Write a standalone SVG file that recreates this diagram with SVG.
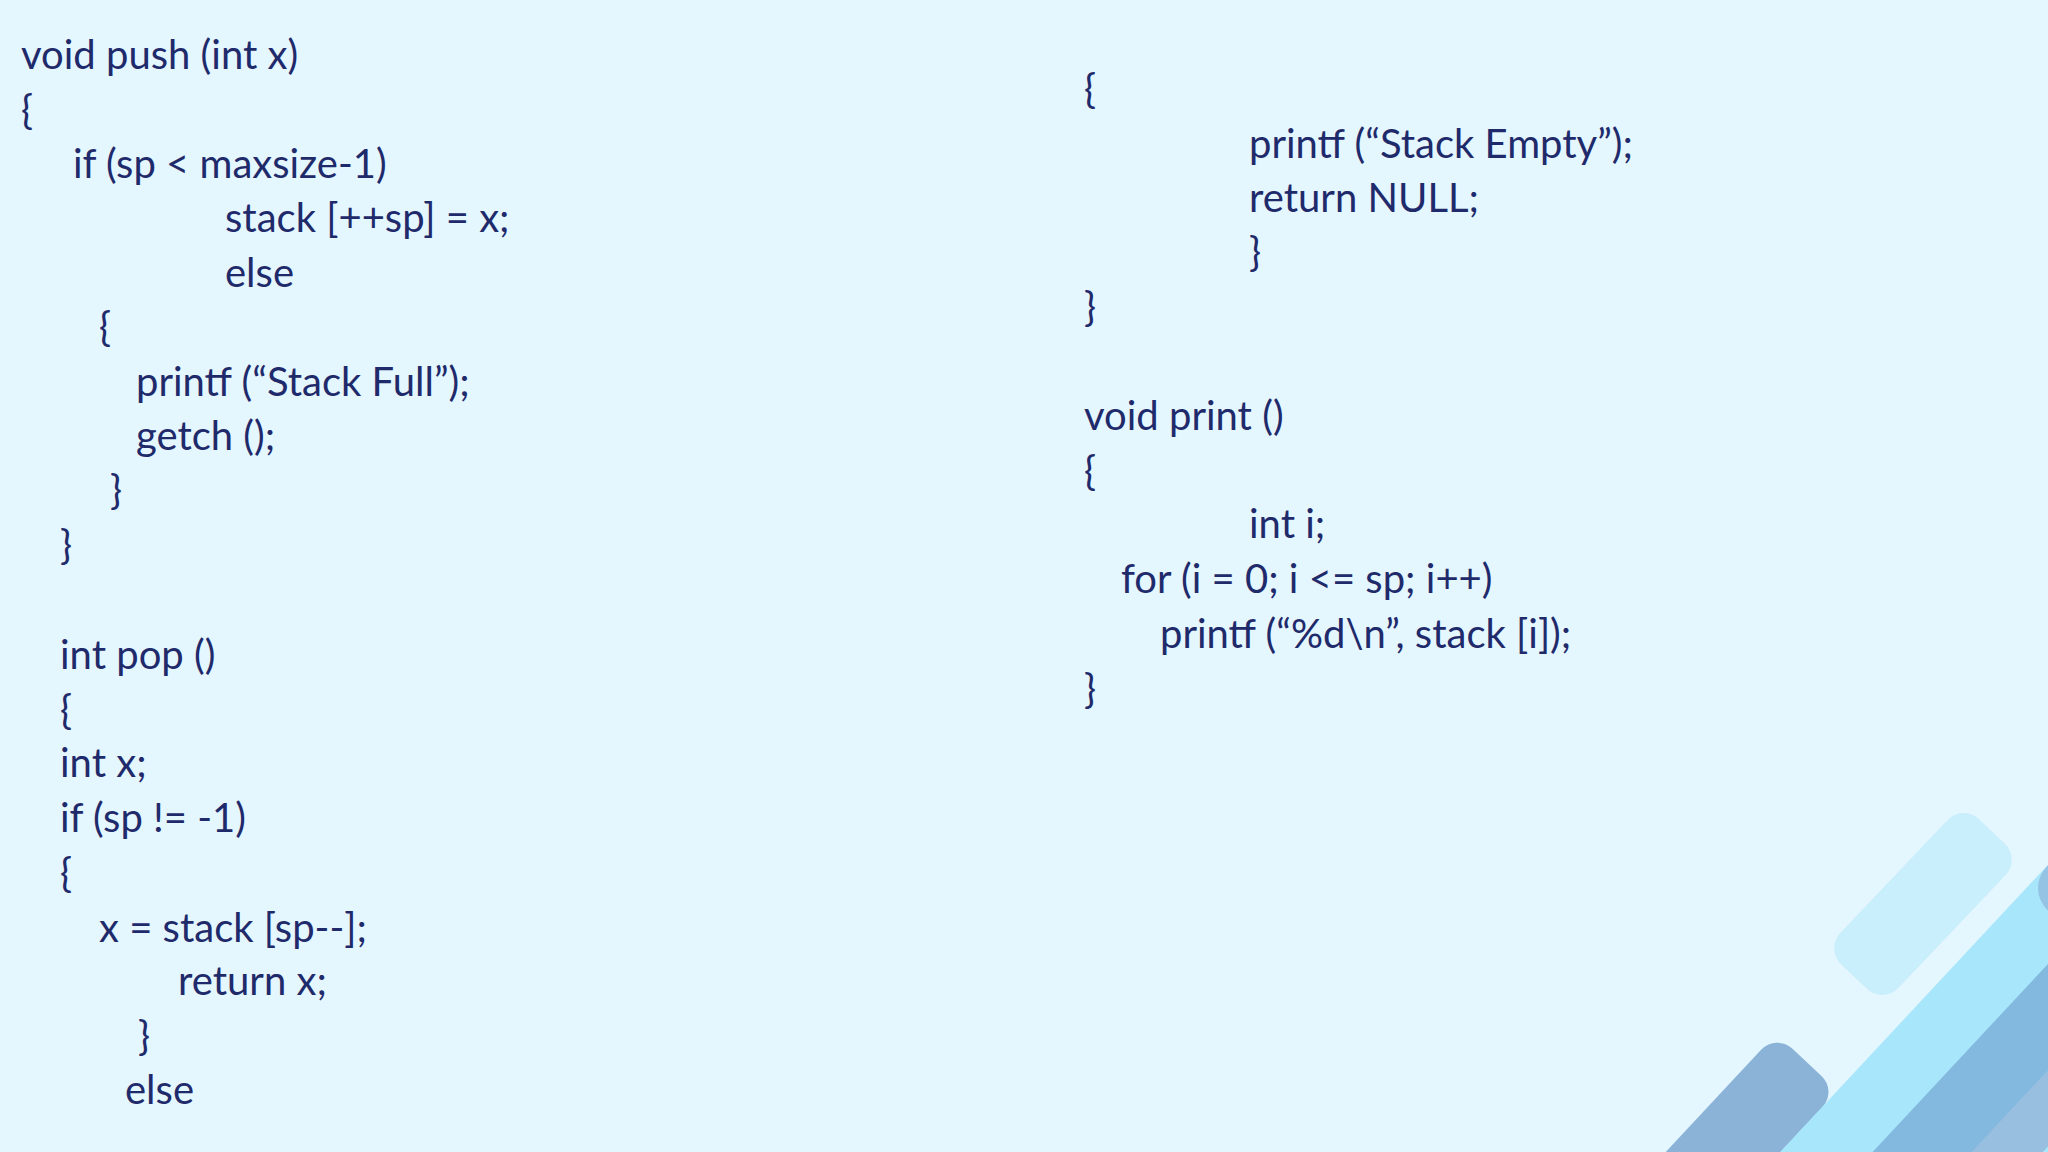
<svg xmlns="http://www.w3.org/2000/svg" width="2048" height="1152" viewBox="0 0 2048 1152">
<style>
text{font-family:Lato,"Open Sans","Liberation Sans",sans-serif;font-size:40px;fill:#1f2a6b}
</style>
<rect width="2048" height="1152" fill="#e4f6fe"/>
<g id="decor">
<rect x="-100" y="-40" width="200" height="80" rx="22" fill="#c9eefc" transform="translate(1923,904) rotate(-46.5)"/>
<rect x="-120" y="-42" width="240" height="84" rx="22" fill="#8bb3d8" transform="translate(1725,1150) rotate(-47)"/>
<rect x="-260" y="-70" width="520" height="140" rx="24" fill="#a8e6fb" transform="translate(1985,1035) rotate(-47)"/>
<rect x="-200" y="-65" width="400" height="130" rx="24" fill="#6f9fd0" opacity="0.65" transform="translate(2010,1100) rotate(-47)"/>
<rect x="-200" y="-40" width="400" height="80" rx="30" fill="#a8e6fb" transform="translate(2090,1160) rotate(-47)"/>
<circle cx="2068" cy="888" r="30" fill="#8bb3d8" opacity="0.7"/>
</g>
<g id="code-left">
<text x="21" y="69">void push (int x)</text>
<text x="21" y="124">{</text>
<text x="73" y="178">if (sp &lt; maxsize-1)</text>
<text x="225" y="232">stack [++sp] = x;</text>
<text x="225" y="287">else</text>
<text x="99" y="341">{</text>
<text x="136" y="396">printf (“Stack Full”);</text>
<text x="136" y="450">getch ();</text>
<text x="110" y="504">}</text>
<text x="60" y="559">}</text>
<text x="60" y="669">int pop ()</text>
<text x="60" y="724">{</text>
<text x="60" y="777">int x;</text>
<text x="60" y="832">if (sp != -1)</text>
<text x="60" y="887">{</text>
<text x="99" y="942">x = stack [sp--];</text>
<text x="178" y="995">return x;</text>
<text x="138" y="1050">}</text>
<text x="125" y="1104">else</text>
</g>
<g id="code-right">
<text x="1084" y="103">{</text>
<text x="1249" y="158">printf (“Stack Empty”);</text>
<text x="1249" y="212">return NULL;</text>
<text x="1249" y="266">}</text>
<text x="1084" y="321">}</text>
<text x="1084" y="430">void print ()</text>
<text x="1084" y="485">{</text>
<text x="1249" y="538">int i;</text>
<text x="1121" y="593">for (i = 0; i &lt;= sp; i++)</text>
<text x="1160" y="648">printf (“%d\n”, stack [i]);</text>
<text x="1084" y="703">}</text>
</g>
</svg>
